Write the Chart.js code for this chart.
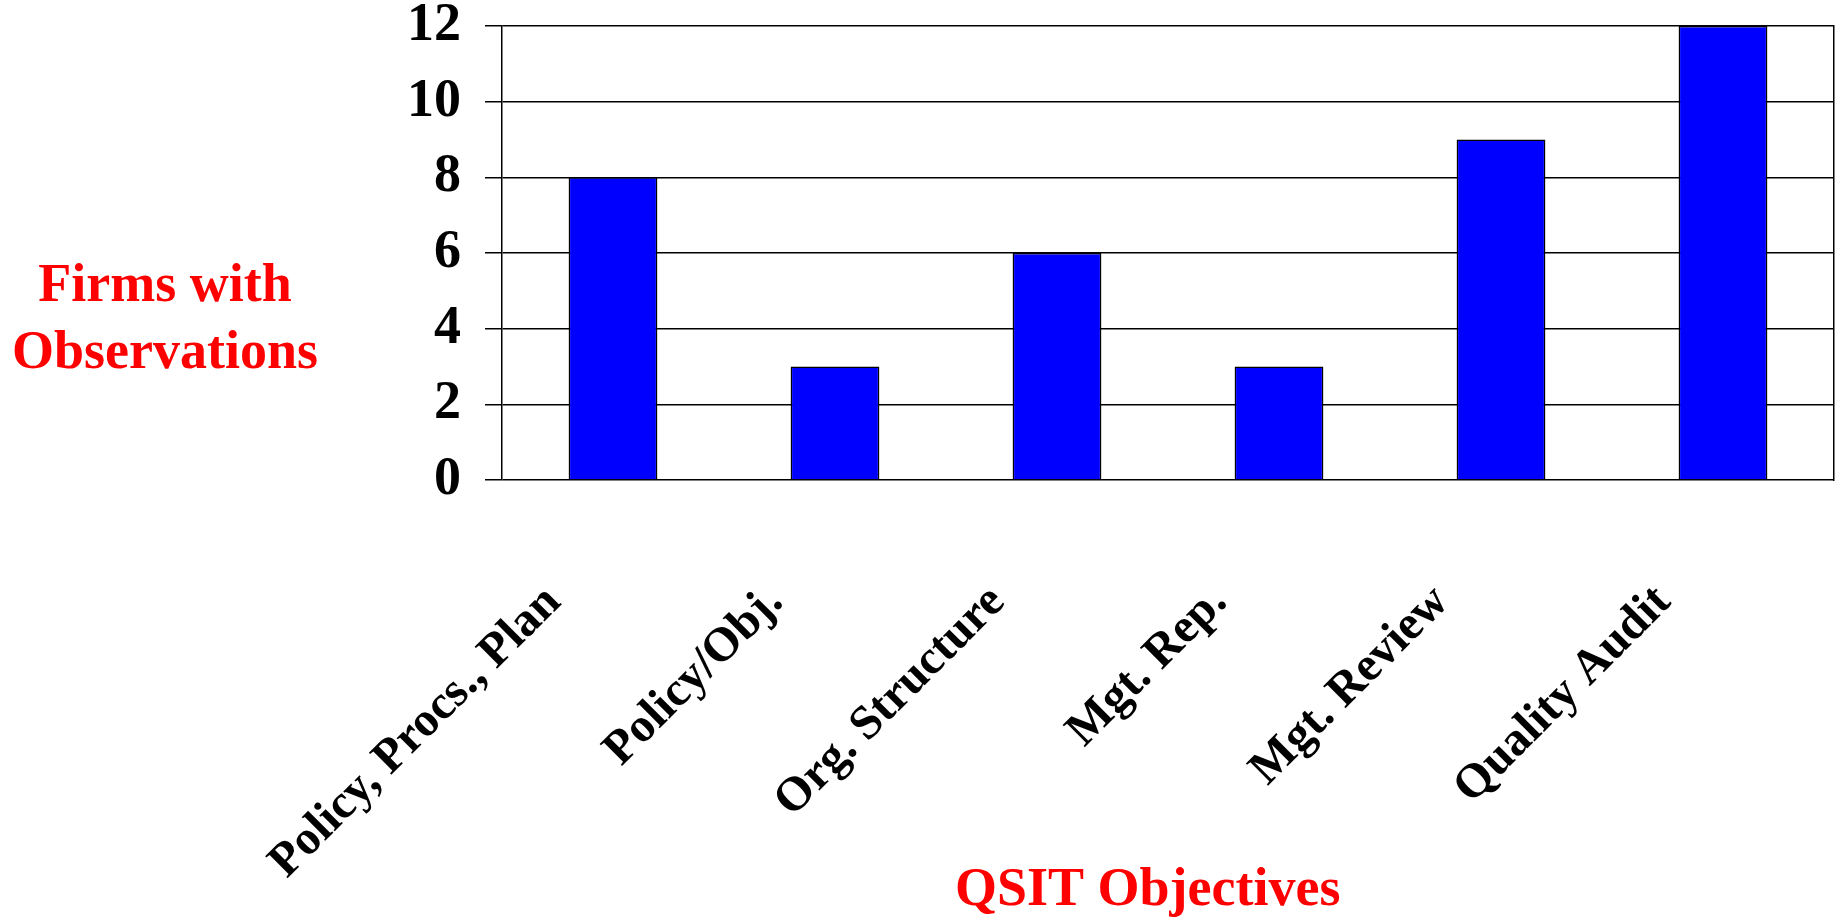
<!DOCTYPE html>
<html>
<head>
<meta charset="utf-8">
<title>Firms with Observations by QSIT Objective</title>
<script src="https://cdn.jsdelivr.net/npm/chart.js@4/dist/chart.umd.min.js"></script>
<style>
    html, body { margin: 0; padding: 0; background: #fff; }
    #wrap { width: 1839px; height: 917px; position: relative; }
</style>
</head>
<body>
<div id="wrap"><canvas id="qsitChart"></canvas></div>
<script>
// Chart data
const categories = ["Policy, Procs., Plan", "Policy/Obj.", "Org. Structure", "Mgt. Rep.", "Mgt. Review", "Quality Audit"];
const firmCounts = [8, 3, 6, 3, 9, 12];
const yTickValues = [0, 2, 4, 6, 8, 10, 12];
const yTitleLines = ["Firms with", "Observations"];
const xTitle = "QSIT Objectives";

const serif = "'Liberation Serif', 'Times New Roman', serif";
const labelGap = "       "; // trailing gap pushes rotated labels down-left
const titleGap = "   ";     // nudges the centred x title a little left

// Horizontal two-line y title, drawn left of the axis
const yTitlePlugin = {
    id: "yTitle",
    afterDraw(chart) {
        const ctx = chart.ctx;
        ctx.save();
        ctx.fillStyle = "#FF0000";
        ctx.font = `bold 54px ${serif}`;
        ctx.textAlign = "center";
        ctx.textBaseline = "alphabetic";
        yTitleLines.forEach((line, i) => {
            ctx.fillText(line, 165, 301 + i * 67);
        });
        ctx.restore();
    }
};

const ctx = document.getElementById("qsitChart").getContext("2d");

new Chart(ctx, {
    type: "bar",
    data: {
        labels: categories,
        datasets: [{
            data: firmCounts,
            backgroundColor: "#0000FF",
            borderColor: "#000000",
            borderWidth: 1.5,
            barPercentage: 0.4,
            categoryPercentage: 1.0
        }]
    },
    options: {
        responsive: true,
        maintainAspectRatio: false,
        animation: false,
        layout: {
            padding: { left: 406, top: 26, right: 5, bottom: 0 }
        },
        plugins: {
            legend: { display: false },
            tooltip: { enabled: false }
        },
        scales: {
            x: {
                afterFit: (axis) => { axis.height = 437; },
                grid: { display: false, drawTicks: false },
                border: { display: false },
                ticks: {
                    autoSkip: false,
                    maxRotation: 45,
                    minRotation: 45,
                    padding: 35,
                    color: "#000",
                    font: { family: serif, size: 48, weight: "bold" },
                    callback: function (value) {
                        return this.getLabelForValue(value) + labelGap;
                    }
                },
                title: {
                    display: true,
                    text: xTitle + titleGap,
                    color: "#FF0000",
                    padding: { top: 0, bottom: -6 },
                    font: { family: serif, size: 54, weight: "bold" }
                }
            },
            y: {
                min: 0,
                max: 12,
                afterBuildTicks: (axis) => {
                    axis.ticks = yTickValues.map(v => ({ value: v }));
                },
                afterFit: (axis) => {
                    axis.width = 96;
                    axis.paddingTop = 0;
                    axis.paddingBottom = 0;
                },
                grid: { color: "#000", lineWidth: 1.5, tickLength: 17 },
                border: { color: "#000", width: 1.5 },
                ticks: {
                    padding: 24,
                    color: "#000",
                    font: { family: serif, size: 54, weight: "bold" }
                }
            },
            // right edge of the plot frame
            yRight: {
                position: "right",
                afterFit: (axis) => {
                    axis.width = 0;
                    axis.paddingTop = 0;
                    axis.paddingBottom = 0;
                },
                grid: { display: false, drawTicks: false },
                ticks: { display: false },
                border: { color: "#000", width: 1.5 }
            }
        }
    },
    plugins: [yTitlePlugin]
});
</script>
</body>
</html>
